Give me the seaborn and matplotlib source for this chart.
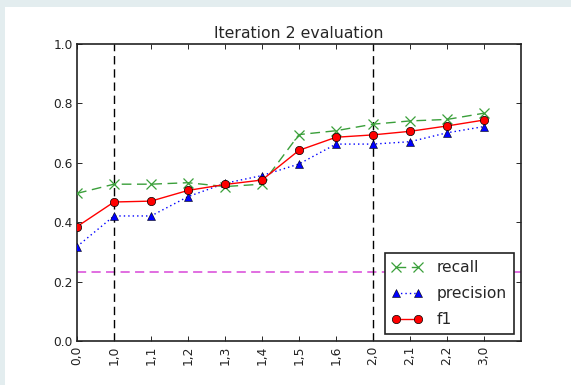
import numpy as np
import pandas as pd
import matplotlib
matplotlib.use("Agg")
import matplotlib.pyplot as plt
import seaborn as sns
from matplotlib.patches import Rectangle

tick_labels = ["0,0", "1,0", "1,1", "1,2", "1,3", "1,4", "1,5", "1,6", "2,0", "2,1", "2,2", "3,0"]
recall = [0.497, 0.528, 0.528, 0.533, 0.520, 0.528, 0.695, 0.708, 0.730, 0.741, 0.746, 0.767]
precision = [0.318, 0.421, 0.421, 0.486, 0.531, 0.557, 0.596, 0.663, 0.663, 0.671, 0.701, 0.722]
f1 = [0.385, 0.468, 0.471, 0.507, 0.527, 0.542, 0.642, 0.686, 0.694, 0.706, 0.724, 0.744]
baseline = 0.232
iteration_marks = [1, 8]

sns.set_style("ticks")
plt.rcParams['font.family'] = ['DejaVu Sans']

pos = np.arange(len(tick_labels))
df = pd.DataFrame({"pos": pos, "recall": recall, "precision": precision, "f1": f1})

fig = plt.figure(figsize=(5.71, 3.85), dpi=100)
fig.patch.set_facecolor("#e3edef")
fig.patches.append(Rectangle((5 / 571, 0), 1, 1 - 7 / 385, transform=fig.transFigure,
                             facecolor="white", edgecolor="none", zorder=-10))
ax = fig.add_axes([77 / 571, 1 - 341 / 385, 444 / 571, 297 / 385])
ax.set_facecolor("white")

green = "#3a9f3a"
sns.lineplot(data=df, x="pos", y="recall", ax=ax, color=green, marker="x", markersize=6.5,
             mec=green, mew=0.9, lw=1, linestyle=(0, (7, 4)), label="recall", zorder=3)
sns.lineplot(data=df, x="pos", y="precision", ax=ax, color="blue", marker="^", markersize=6,
             mec="black", mew=0.4, lw=1, linestyle=(0, (1, 2.2)), label="precision", zorder=3)
for xv in iteration_marks:
    ax.axvline(xv, color="black", lw=1, linestyle=(0, (6, 3.5)), zorder=2)
sns.lineplot(data=df, x="pos", y="f1", ax=ax, color="red", marker="o", markersize=6,
             mec="black", mew=0.5, lw=1, label="f1", zorder=4)
ax.axhline(baseline, color="#d946d9", lw=1.1, linestyle=(0, (6, 3.5)), zorder=1)

ax.set_xlim(0, 12)
ax.set_ylim(0, 1.0)
ax.set_xticks(pos)
ax.set_xticklabels(tick_labels, rotation=90)
ax.set_yticks(np.arange(0, 1.01, 0.2))
ax.set_yticklabels([f"{v:.1f}" for v in np.arange(0, 1.01, 0.2)])
ax.set_xlabel("")
ax.set_ylabel("")
ax.set_title("Iteration 2 evaluation", fontsize=11.3, pad=4)
ax.tick_params(direction="in", length=3.5, width=0.7, labelsize=8.8, top=True, right=True,
               labelcolor="#222222", pad=3)
for s in ax.spines.values():
    s.set_visible(True)
    s.set_color("#222222")
    s.set_linewidth(1.2)

leg = ax.legend(loc="lower right", numpoints=2, fontsize=11.2, fancybox=False,
                framealpha=1, edgecolor="#222222", handlelength=2.0, handletextpad=0.9,
                labelspacing=0.7, borderpad=0.45, borderaxespad=0.45)
leg.get_frame().set_linewidth(1.2)

fig.savefig("out.png", dpi=100, facecolor=fig.get_facecolor())
